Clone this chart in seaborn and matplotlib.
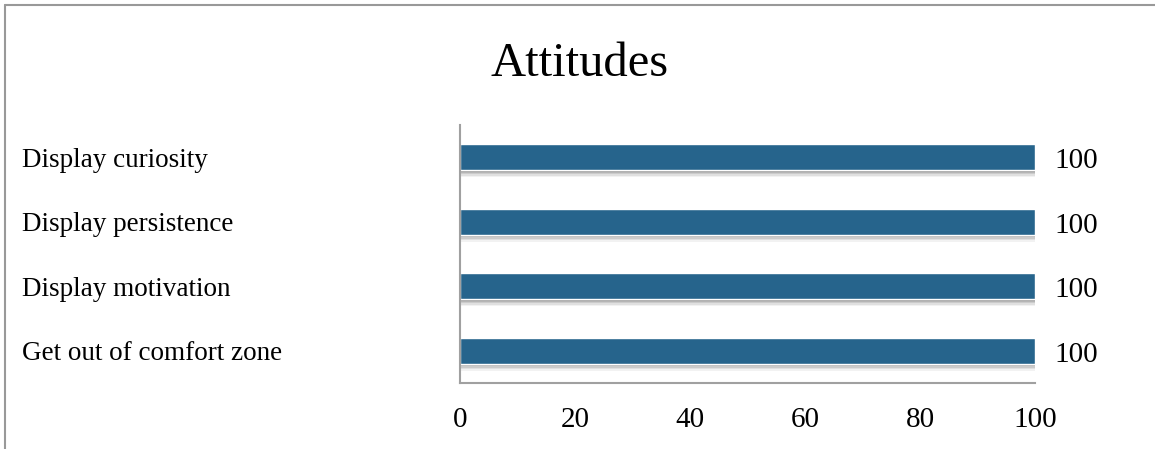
import matplotlib
matplotlib.use("Agg")
import matplotlib.pyplot as plt
import matplotlib.patheffects as pe
from matplotlib.lines import Line2D
from matplotlib.transforms import blended_transform_factory
import seaborn as sns
import pandas as pd

# Data
categories = ["Display curiosity", "Display persistence", "Display motivation", "Get out of comfort zone"]
values = [100, 100, 100, 100]
x_ticks = [0, 20, 40, 60, 80, 100]

df = pd.DataFrame({"category": categories, "value": values})

sns.set_style("white")
plt.rcParams["font.family"] = ["Liberation Serif", "DejaVu Serif"]
plt.rcParams["text.color"] = "black"
plt.rcParams["xtick.color"] = "black"
plt.rcParams["ytick.color"] = "black"

fig = plt.figure(figsize=(11.55, 4.49), dpi=100)
ax = fig.add_axes([0.3983, 0.147, 0.4978, 0.5746])

bar_color = "#26648C"
sns.barplot(data=df, y="category", x="value", orient="h", color=bar_color,
            width=0.4, saturation=1, ax=ax)

# soft, blurred-looking drop shadow under each bar
shadow = [pe.SimplePatchShadow(offset=(1.0, -d), shadow_rgbFace="#606060", alpha=a)
          for d, a in ((5.0, 0.08), (4.0, 0.12), (3.0, 0.16), (2.0, 0.2), (1.0, 0.24))]
for patch in ax.patches:
    patch.set_path_effects(shadow + [pe.Normal()])

ax.set_xlim(0, 100)
ax.set_ylim(3.5, -0.5)
ax.set_xticks(x_ticks)
ax.set_xticklabels([str(t) for t in x_ticks], fontsize=21)
ax.tick_params(axis="x", length=0, pad=17)
ax.set_yticks([])
ax.set_xlabel("")
ax.set_ylabel("")

for side in ("top", "right"):
    ax.spines[side].set_visible(False)
for side in ("left", "bottom"):
    ax.spines[side].set_color("#a0a0a0")
    ax.spines[side].set_linewidth(1.5)

# value labels to the right of the bars
for i, v in enumerate(values):
    ax.annotate(str(v), xy=(v, i), xytext=(14, -3), textcoords="offset points",
                ha="left", va="center", fontsize=21, color="black")

# category labels, left-aligned at the figure's left margin
trans = blended_transform_factory(fig.transFigure, ax.transData)
for i, cat in enumerate(categories):
    ax.text(22 / 1155, i, cat, transform=trans, ha="left", va="center_baseline",
            fontsize=19.5, color="black", clip_on=False)

fig.text(0.502, 1 - 64 / 449, "Attitudes", ha="center", va="center", fontsize=35,
         color="black")

# chart frame lines along the left and top edges
frame_kw = dict(color="#999999", linewidth=1.5, transform=fig.transFigure)
fig.add_artist(Line2D([4.5 / 1155, 4.5 / 1155], [0, 1 - 4.5 / 449], **frame_kw))
fig.add_artist(Line2D([4.5 / 1155, 1], [1 - 4.5 / 449, 1 - 4.5 / 449], **frame_kw))

fig.savefig("out.png", dpi=100)
